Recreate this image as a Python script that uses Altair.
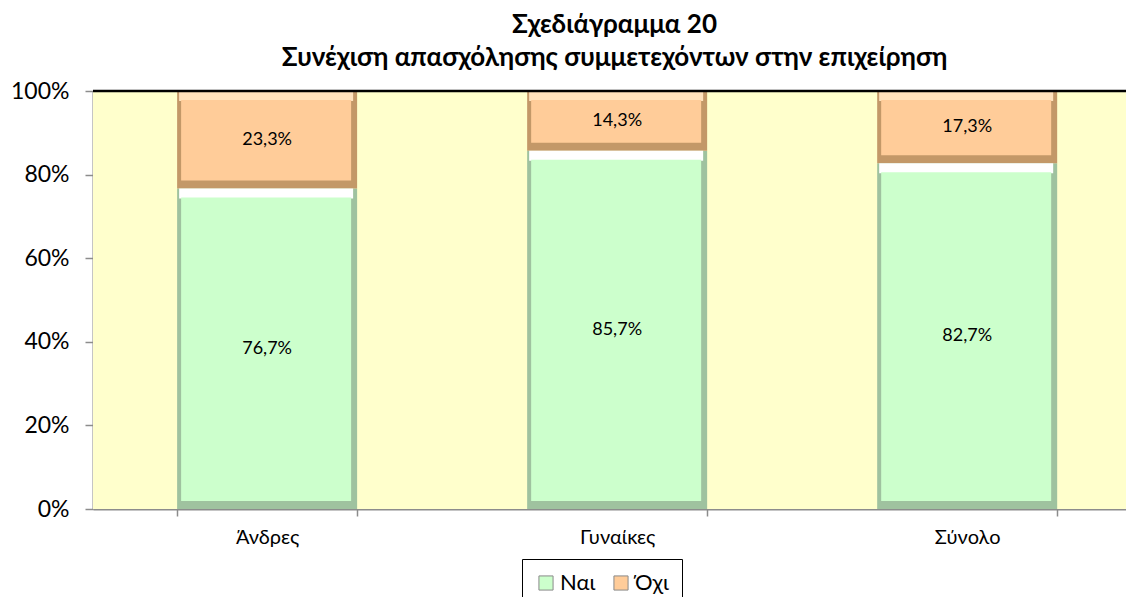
import altair as alt
import pandas as pd

categories = ["Άνδρες", "Γυναίκες", "Σύνολο"]
series = ["Ναι", "Όχι"]
nai = [76.7, 85.7, 82.7]
oxi = [23.3, 14.3, 17.3]
y_ticks = [0, 0.2, 0.4, 0.6, 0.8, 1.0]

rows = []
for i, c in enumerate(categories):
    start = 0.0
    for s, vals in zip(series, [nai, oxi]):
        v = vals[i] / 100.0
        rows.append({
            "cat": c, "series": s, "start": start, "end": start + v,
            "mid": start + v / 2,
            "label": f"{vals[i]:.1f}".replace(".", ",") + "%",
        })
        start += v
df = pd.DataFrame(rows)

FONT = "Lato"
xscale = alt.Scale(domain=categories, paddingInner=0.486, paddingOuter=0.2186, align=0.55)
yscale = alt.Scale(domain=[0, 1])

base = alt.Chart(df)

x_enc = alt.X("cat:N", scale=xscale, sort=categories, title=None,
              axis=alt.Axis(labelAngle=0, labelFontSize=20, labelFont=FONT, labelColor="black",
                            domainColor="#8c8c8c", domainWidth=2, tickColor="#8c8c8c",
                            tickSize=7, tickWidth=1.5, tickBand="extent", labelPadding=11))
y_enc = alt.Y("end:Q", scale=yscale, title=None,
              axis=alt.Axis(values=y_ticks, format=".0%", labelFontSize=23, labelFont=FONT,
                            labelColor="black", grid=False, domainColor="#8c8c8c", domainWidth=2,
                            tickColor="#8c8c8c", tickSize=8, tickWidth=1.5, labelPadding=16))

bg = alt.Chart(pd.DataFrame({"lo": [0.0], "hi": [1.0]})).mark_rect(color="#ffffcc").encode(
    y=alt.Y("lo:Q", scale=yscale), y2="hi:Q"
)
shadow = base.mark_bar(size=180).encode(
    x=x_enc, y=y_enc, y2="start:Q",
    color=alt.Color("series:N", scale=alt.Scale(domain=series, range=["#9fc29f", "#c39868"]), legend=None),
)
highlight = base.mark_bar(size=174, xOffset=-1, y2Offset=10).encode(
    x=alt.X("cat:N", scale=xscale, sort=categories),
    y=alt.Y("end:Q", scale=yscale), y2="end:Q",
    color=alt.Color("series:N", scale=alt.Scale(domain=series, range=["#ffffff", "#ffe2bd"]), legend=None),
)
face = base.mark_bar(size=170, xOffset=-1, yOffset=9, y2Offset=-8).encode(
    x=alt.X("cat:N", scale=xscale, sort=categories),
    y=alt.Y("end:Q", scale=yscale), y2="start:Q",
    color=alt.Color("series:N", scale=alt.Scale(domain=series, range=["#ccffcc", "#ffcc99"]),
                    title=None,
                    legend=alt.Legend(orient="none", legendX=429, legendY=468, direction="horizontal",
                                      strokeColor="black", padding=13, symbolType="square",
                                      symbolSize=200, symbolStrokeColor="#8a8a8a", symbolStrokeWidth=1,
                                      labelFontSize=22, labelFont=FONT, labelColor="black",
                                      columnPadding=14, labelOffset=3)),
)
labels = base.mark_text(fontSize=18, font=FONT, color="black").encode(
    x=alt.X("cat:N", scale=xscale, sort=categories),
    y=alt.Y("mid:Q", scale=yscale),
    text="label:N",
)
top_rule = alt.Chart(pd.DataFrame({"v": [1.0]})).mark_rule(color="black", strokeWidth=2.5).encode(
    y=alt.Y("v:Q", scale=yscale)
)

chart = alt.layer(bg, shadow, highlight, face, labels, top_rule).resolve_scale(color="independent").properties(
    width=1033, height=418,
    autosize=alt.AutoSizeParams(type="none"),
    padding={"left": 85, "top": 83, "right": 0, "bottom": 88},
    title=alt.TitleParams(
        text=["Σχεδιάγραμμα 20", "Συνέχιση απασχόλησης συμμετεχόντων στην επιχείρηση"],
        font=FONT, fontSize=26, fontWeight="bold", color="black", anchor="middle",
        dx=5, offset=9, lineHeight=33,
    ),
).configure_view(stroke=None).configure(background="white")

chart.save("out.html", embed_options={"renderer": "svg", "actions": False})
